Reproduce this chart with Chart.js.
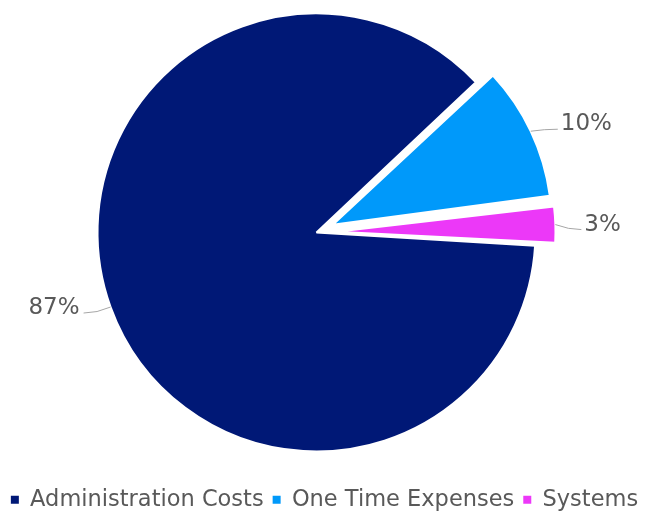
<!DOCTYPE html>
<html>
<head>
<meta charset="utf-8">
<script src="https://cdn.jsdelivr.net/npm/chart.js@4.4.1/dist/chart.umd.min.js"></script>
<style>
  html, body { margin: 0; padding: 0; background: #ffffff; }
  canvas { display: block; }
</style>
</head>
<body>
<canvas id="costChart" width="649" height="512"></canvas>
<script>
// Cost breakdown
const categories = ['Administration Costs', 'One Time Expenses', 'Systems'];
const shares = [87, 10, 3];

// Styling
const sliceColors = ['#001876', '#0099FA', '#EC38F8'];
const sliceOffsets = [0, 72, 80];          // exploded slices
const textColor = '#595959';
const fontFamily = '"DejaVu Sans", Verdana, sans-serif';
const fontSize = 22.5;
const labelFontSize = 23;

// Leader line direction for each slice label (dx, dy in px from the slice edge)
const leaderVectors = [[-27, 6], [27, -2], [26, 5]];

// Exploded slices keep the same radius as the rest of the pie
const evenExplode = {
  id: 'evenExplode',
  afterDatasetUpdate(chart, args) {
    args.meta.data.forEach(arc => {
      const shift = (arc.options.offset || 0) / 4;
      if (!shift) return;
      arc.outerRadius -= shift * (1 - Math.sin(Math.min(Math.PI, arc.circumference)));
    });
  }
};

// Percentage labels with leader lines, computed from each arc's geometry
const leaderLabels = {
  id: 'leaderLabels',
  afterDatasetsDraw(chart, args, opts) {
    const meta = chart.getDatasetMeta(0);
    const radius = meta.controller.outerRadius;
    const values = chart.data.datasets[0].data;
    const total = values.reduce((a, b) => a + b, 0);
    const ctx = chart.ctx;
    ctx.save();
    meta.data.forEach((arc, i) => {
      const p = arc.getProps(['x', 'y', 'startAngle', 'endAngle'], true);
      const mid = (p.startAngle + p.endAngle) / 2;
      const r = radius + (arc.options.offset || 0) / 4;
      const px = p.x + Math.cos(mid) * r;
      const py = p.y + Math.sin(mid) * r;
      const [dx, dy] = opts.vectors[i];
      const ex = px + dx, ey = py + dy;

      ctx.strokeStyle = opts.lineColor;
      ctx.lineWidth = 1;
      ctx.beginPath();
      ctx.moveTo(px, py);
      ctx.quadraticCurveTo(px + dx * 0.5, ey, ex, ey);
      ctx.stroke();

      const pct = Math.round(values[i] / total * 100) + '%';
      const toRight = dx >= 0;
      ctx.fillStyle = opts.color;
      ctx.font = opts.font;
      ctx.textBaseline = 'alphabetic';
      ctx.textAlign = toRight ? 'left' : 'right';
      ctx.fillText(pct, ex + (toRight ? 3 : -4), ey + 1);
    });
    ctx.restore();
  }
};

const baseLabels = (Chart.overrides.pie || Chart.overrides.doughnut).plugins.legend.labels.generateLabels;

new Chart(document.getElementById('costChart'), {
  type: 'pie',
  data: {
    labels: categories,
    datasets: [{
      data: shares,
      backgroundColor: sliceColors,
      borderColor: '#ffffff',
      borderWidth: 2,
      offset: sliceOffsets,
      radius: 219,
      clip: false
    }]
  },
  options: {
    responsive: false,
    animation: false,
    rotation: 93.5,
    layout: { padding: { top: 0, bottom: -9, left: 0, right: 0 } },
    plugins: {
      // empty title on the right keeps the pie left of centre while the legend spans the full width
      title: {
        display: true,
        position: 'right',
        text: '',
        padding: 0,
        font: { size: 16, lineHeight: 1 }
      },
      tooltip: { enabled: false },
      legend: {
        position: 'bottom',
        // empty legend title leaves a gap between the pie and the legend row
        title: { display: true, text: '', padding: 0, font: { size: 14.5, lineHeight: 1 } },
        labels: {
          usePointStyle: true,
          pointStyle: 'rect',
          boxWidth: 8,
          boxHeight: 8,
          padding: 9,
          color: textColor,
          font: { family: fontFamily, size: fontSize },
          generateLabels(chart) {
            const items = baseLabels(chart);
            items.forEach(it => { it.lineWidth = 0; });
            return items;
          }
        }
      },
      leaderLabels: {
        vectors: leaderVectors,
        lineColor: '#A6A6A6',
        color: textColor,
        font: labelFontSize + 'px ' + fontFamily
      }
    }
  },
  plugins: [evenExplode, leaderLabels]
});
</script>
</body>
</html>
